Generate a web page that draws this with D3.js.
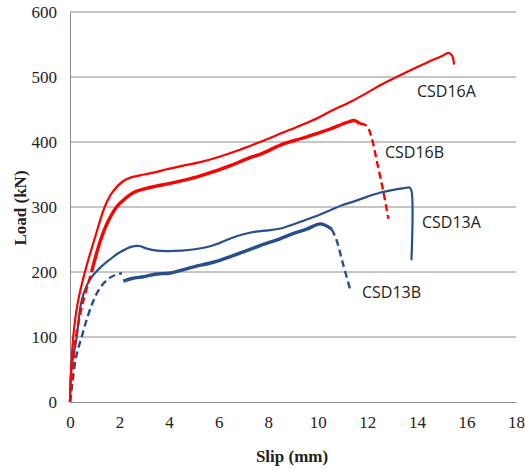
<!DOCTYPE html>
<html lang="en">
<head>
<meta charset="utf-8">
<title>Load-slip curves</title>
<style>
  body { margin: 0; background: #fff; }
  svg text { fill: #222; }
</style>
</head>
<body>
<script src="https://cdnjs.cloudflare.com/ajax/libs/d3/7.9.0/d3.min.js"></script>
<script>
// tick values
const slipTicks = [0, 2, 4, 6, 8, 10, 12, 14, 16, 18];
const loadTicks = [0, 100, 200, 300, 400, 500, 600];

// curves as [slip (mm), load (kN)]
const csd16A = [[0,0],[0.05,50],[0.13,100],[0.3,150],[0.6,200],[1.0,252],[1.4,300],[1.7,322],[2.15,340],
  [2.5,346],[3.0,350],[3.5,354],[3.9,358],[4.5,363],[5.25,369],[6,377],[6.86,388],[7.26,394],[8,405],
  [8.5,413],[9.28,425],[10,437],[10.5,447],[11.43,464],[12,476],[12.5,487],[13.18,500],[14,515],
  [14.5,524],[15,532],[15.27,537],[15.42,533],[15.5,519]];

const csd16BPre = [[0,0],[0.1,50],[0.24,100],[0.5,150],[0.87,200]];
const csd16BMain = [[0.87,200],[1.2,245],[1.5,275],[1.88,300],[2.2,312],[2.55,322],[3.23,330],[4,336],
  [4.57,341],[5.2,347],[5.92,356],[6.5,364],[7.26,376],[7.67,381],[8.61,397],[9.3,405],[9.96,413],
  [10.5,420],[11.17,430],[11.5,433],[11.7,428]];
const csd16BPost = [[11.7,428],[11.97,425],[12.17,407],[12.38,371],[12.64,325],[12.85,282]];

const csd13A = [[0,0],[0.05,50],[0.27,100],[0.47,156],[0.8,188],[1.2,206],[1.6,219],[2.0,230],[2.5,239],
  [2.8,240],[3.1,236],[3.5,233],[4.5,233],[5.5,238],[6,244],[6.5,252],[7,258],[7.5,262],[8,264],
  [8.5,267],[9,273],[9.5,280],[10,287],[10.5,295],[11,303],[11.5,309],[12,316],[12.5,322],[13,326],
  [13.5,329],[13.7,330],[13.78,325],[13.78,218]];

const csd13BPre = [[0,0],[0.1,30],[0.25,70],[0.47,100],[0.7,130],[0.95,156],[1.2,175],[1.5,188],
  [1.8,195],[2.1,198]];
const csd13BMain = [[2.15,186],[2.5,190],[3,193],[3.5,197],[4,198],[4.44,202],[5,208],[5.78,215],
  [6.5,224],[7.13,233],[7.7,241],[8.47,251],[9,259],[9.55,266],[10.09,274],[10.3,272],[10.56,266]];
const csd13BPost = [[10.56,266],[10.75,250],[11,215],[11.3,174]];

const seriesLabels = [
  {name: "CSD16A", x: 417, y: 97},
  {name: "CSD16B", x: 385, y: 158},
  {name: "CSD13A", x: 422, y: 228},
  {name: "CSD13B", x: 362, y: 298}
];

const width = 525, height = 470;
const margin = {top: 12, right: 9, bottom: 68, left: 70};

const red = "#ff0000", blue = "#27508a";

const svg = d3.select("body").append("svg")
  .attr("width", width)
  .attr("height", height);

const x = d3.scaleLinear().domain([0, 18]).range([margin.left, width - margin.right]);
const y = d3.scaleLinear().domain([0, 600]).range([height - margin.bottom, margin.top]);

// gridlines
svg.append("g")
  .selectAll("line")
  .data(loadTicks.filter(d => d > 0))
  .join("line")
  .attr("x1", x(0)).attr("x2", x(18))
  .attr("y1", d => y(d)).attr("y2", d => y(d))
  .attr("stroke", "#8c8c8c").attr("stroke-width", 1);

// axes
const xAxis = svg.append("g")
  .attr("transform", `translate(0,${y(0)})`)
  .call(d3.axisBottom(x).tickValues(slipTicks).tickSize(0).tickPadding(14));
const yAxis = svg.append("g")
  .attr("transform", `translate(${x(0)},0)`)
  .call(d3.axisLeft(y).tickValues(loadTicks).tickSize(0).tickPadding(13));

[xAxis, yAxis].forEach(a => {
  a.select(".domain").attr("stroke", "#8c8c8c");
  a.selectAll("text")
    .style("font-family", "'Liberation Serif', 'DejaVu Serif', serif")
    .style("font-size", "17px")
    .attr("fill", "#2a2a2a");
});

const line = d3.line()
  .x(d => x(d[0]))
  .y(d => y(d[1]))
  .curve(d3.curveCatmullRom.alpha(0.5));

const plot = svg.append("g");

function draw(data, color, w, dash) {
  plot.append("path")
    .datum(data)
    .attr("d", line)
    .attr("fill", "none")
    .attr("stroke", color)
    .attr("stroke-width", w)
    .attr("stroke-linejoin", "round")
    .attr("stroke-dasharray", dash || null);
}

draw(csd13BPre, blue, 2.4, "7,4");
draw(csd13BMain, blue, 3.4);
draw(csd13BPost, blue, 2.4, "7,4");
draw(csd13A, blue, 2.2);
draw(csd16BPre, red, 2.4, "7,4");
draw(csd16BMain, red, 3.4);
draw(csd16BPost, red, 2.4, "7,4");
draw(csd16A, red, 2.2);

// series labels
svg.append("g")
  .selectAll("text")
  .data(seriesLabels)
  .join("text")
  .attr("x", d => d.x)
  .attr("y", d => d.y)
  .style("font-family", "'Open Sans', sans-serif")
  .style("font-size", "16px")
  .text(d => d.name);

// axis titles
svg.append("text")
  .attr("x", 292).attr("y", 462)
  .attr("text-anchor", "middle")
  .style("font-family", "'Liberation Serif', serif")
  .style("font-size", "17px")
  .style("font-weight", "bold")
  .text("Slip (mm)");

svg.append("text")
  .attr("transform", "translate(26,208) rotate(-90)")
  .attr("text-anchor", "middle")
  .style("font-family", "'Liberation Serif', serif")
  .style("font-size", "17px")
  .style("font-weight", "bold")
  .text("Load (kN)");
</script>
</body>
</html>
